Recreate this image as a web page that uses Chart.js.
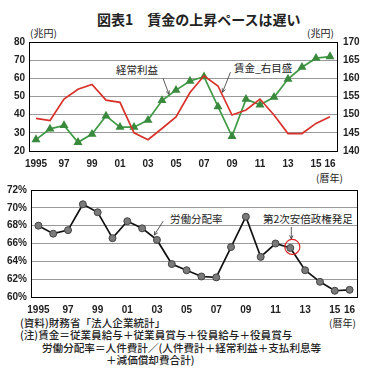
<!DOCTYPE html>
<html lang="ja">
<head>
<meta charset="utf-8">
<script src="https://cdn.jsdelivr.net/npm/chart.js@4/dist/chart.umd.min.js"></script>
<style>
  body { margin: 0; width: 373px; height: 379px; background: #fff; position: relative; overflow: hidden;
    font-family: 'Noto Sans CJK JP', sans-serif; color: #222; }
  .t { position: absolute; white-space: nowrap; font-size: 10px; line-height: 1; }
  .n { font-size: 10.6px; font-weight: 500; }
  canvas { position: absolute; left: 0; }
</style>
</head>
<body>
<div class="t" style="left:97px;top:12px;font-size:14px;font-weight:bold;">図表1　賃金の上昇ペースは遅い</div>
<div class="t" style="left:30px;top:28px;">(兆円)</div>
<div class="t" style="left:307px;top:28px;">(兆円)</div>
<div class="t" style="left:116px;top:65px;font-size:10.5px;">経常利益</div>
<div class="t" style="left:234px;top:63px;font-size:10.5px;">賃金_右目盛</div>
<div class="t" style="left:316px;top:173px;">(暦年)</div>
<div class="t" style="left:170px;top:214px;font-size:10.5px;">労働分配率</div>
<div class="t" style="left:263px;top:214px;font-size:10.5px;">第2次安倍政権発足</div>
<div class="t" style="left:329px;top:318px;">(暦年)</div>
<div class="t n" style="left:20px;top:318px;">(資料)財務省「法人企業統計」</div>
<div class="t n" style="left:20px;top:330px;">(注)賃金＝従業員給与＋従業員賞与＋役員給与＋役員賞与</div>
<div class="t n" style="left:42px;top:343px;">労働分配率＝人件費計／(人件費計＋経常利益＋支払利息等</div>
<div class="t n" style="left:106px;top:355px;">＋減価償却費合計)</div>

<canvas id="top-chart" width="373" height="171" style="top:0"></canvas>
<canvas id="share-chart" width="373" height="137" style="top:180px"></canvas>

<script>
const years = ['1995', '96', '97', '98', '99', '00', '01', '02', '03', '04', '05',
  '06', '07', '08', '09', '10', '11', '12', '13', '14', '15', '16'];
// 経常利益 (兆円, left axis)
const profit = [26.3, 32.2, 34.1, 24.8, 29.3, 39.3, 33.1, 33.1, 37.0, 47.8, 53.5,
  58.5, 60.9, 44.4, 28.1, 48.5, 45.4, 49.6, 59.6, 66.1, 71.1, 72.0];
// 賃金 (兆円, right axis)
const wages = [149.0, 148.4, 154.3, 157.0, 158.3, 154.0, 153.4, 145.0, 143.1, 146.2, 149.4,
  156.1, 160.7, 157.9, 149.9, 151.3, 154.3, 149.9, 144.8, 144.8, 147.6, 149.4];
// 労働分配率 (%)
const laborShare = [68.0, 67.1, 67.5, 70.4, 69.5, 66.6, 68.5, 67.7, 66.4, 63.7, 63.0,
  62.3, 62.2, 65.6, 69.0, 64.5, 66.0, 65.5, 63.0, 61.7, 60.7, 60.8];
const abeStartIndex = 17; // 2012

const tickFont = { family: "'Liberation Sans', Arial, sans-serif", size: 10, weight: 'bold' };
const tickColor = '#222';
const gridColor = '#9a9a9a';

function yearLabel(value, index) {
  return (index % 2 === 0 || index === years.length - 1) ? years[index] : '';
}

const frame = {
  id: 'frame',
  beforeDatasetsDraw(chart) {
    const { ctx, chartArea: a } = chart;
    ctx.save();
    ctx.strokeStyle = '#000';
    ctx.lineWidth = 1;
    ctx.strokeRect(Math.round(a.left) + 0.5, Math.round(a.top) + 0.5,
      Math.round(a.right - a.left), Math.round(a.bottom - a.top));
    ctx.restore();
  },
};

function arrow(ctx, x1, y1, x2, y2) {
  const ang = Math.atan2(y2 - y1, x2 - x1);
  ctx.beginPath();
  ctx.moveTo(x1, y1);
  ctx.lineTo(x2, y2);
  ctx.moveTo(x2 - 4 * Math.cos(ang - 0.45), y2 - 4 * Math.sin(ang - 0.45));
  ctx.lineTo(x2, y2);
  ctx.lineTo(x2 - 4 * Math.cos(ang + 0.45), y2 - 4 * Math.sin(ang + 0.45));
  ctx.stroke();
}

function along(p, q, t) {
  return { x: p.x + (q.x - p.x) * t, y: p.y + (q.y - p.y) * t };
}

const topArrows = {
  id: 'topArrows',
  afterDatasetsDraw(chart) {
    const { ctx } = chart;
    const wagePts = chart.getDatasetMeta(0).data;
    const profitPts = chart.getDatasetMeta(1).data;
    ctx.save();
    ctx.strokeStyle = '#333';
    ctx.lineWidth = 0.8;
    const a = along(profitPts[9], profitPts[10], 0.5);
    arrow(ctx, a.x - 6, a.y - 17, a.x, a.y - 1);
    const b = along(wagePts[13], wagePts[14], 0.25);
    arrow(ctx, b.x + 9, b.y - 21, b.x + 1, b.y - 1);
    ctx.restore();
  },
};

const shareMarks = {
  id: 'shareMarks',
  afterDatasetsDraw(chart) {
    const { ctx } = chart;
    const pts = chart.getDatasetMeta(0).data;
    ctx.save();
    ctx.strokeStyle = '#333';
    ctx.lineWidth = 0.8;
    const a = along(pts[7], pts[8], 0.75);
    arrow(ctx, a.x + 10, a.y - 16, a.x + 1, a.y - 2);
    const c = pts[abeStartIndex];
    arrow(ctx, c.x + 1, c.y - 21, c.x + 1, c.y - 9);
    ctx.strokeStyle = '#e02828';
    ctx.lineWidth = 1.2;
    ctx.beginPath();
    ctx.arc(c.x + 2, c.y - 1, 7.5, 0, Math.PI * 2);
    ctx.stroke();
    ctx.restore();
  },
};

new Chart(document.getElementById('top-chart'), {
  type: 'line',
  data: {
    labels: years,
    datasets: [
      {
        label: '賃金',
        data: wages,
        yAxisID: 'y2',
        borderColor: '#d8322b',
        borderWidth: 1.7,
        pointRadius: 0,
      },
      {
        label: '経常利益',
        data: profit,
        yAxisID: 'y',
        borderColor: '#3f9a45',
        borderWidth: 1.7,
        pointStyle: 'triangle',
        pointRadius: 3.5,
        pointBackgroundColor: '#3a8a3e',
        pointBorderColor: '#3a8a3e',
      },
    ],
  },
  options: {
    responsive: false,
    animation: false,
    layout: { padding: { top: 42, left: 0, right: 0, bottom: 0 } },
    plugins: { legend: { display: false }, tooltip: { enabled: false } },
    scales: {
      x: {
        offset: true,
        grid: { display: false, drawTicks: false },
        border: { display: false },
        ticks: { autoSkip: false, maxRotation: 0, padding: 7, font: tickFont, color: tickColor, callback: yearLabel },
        afterFit: (s) => { s.height = 20; },
      },
      y: {
        min: 20,
        max: 80,
        grid: { color: gridColor, drawTicks: false },
        border: { display: false },
        ticks: { stepSize: 10, padding: 4, font: tickFont, color: tickColor },
        afterFit: (s) => { s.width = 29; },
      },
      y2: {
        position: 'right',
        min: 140,
        max: 170,
        grid: { drawOnChartArea: false, drawTicks: false },
        border: { display: false },
        ticks: { stepSize: 5, padding: 6, font: tickFont, color: tickColor },
        afterFit: (s) => { s.width = 36; },
      },
    },
  },
  plugins: [frame, topArrows],
});

new Chart(document.getElementById('share-chart'), {
  type: 'line',
  data: {
    labels: years,
    datasets: [
      {
        label: '労働分配率',
        data: laborShare,
        borderColor: '#111',
        borderWidth: 1.7,
        pointRadius: 3.5,
        pointBackgroundColor: '#7a7a7a',
        pointBorderColor: '#444',
        pointBorderWidth: 1,
      },
    ],
  },
  options: {
    responsive: false,
    animation: false,
    layout: { padding: { top: 10, left: 0, right: 16, bottom: 0 } },
    plugins: { legend: { display: false }, tooltip: { enabled: false } },
    scales: {
      x: {
        offset: true,
        grid: { display: false, drawTicks: false },
        border: { display: false },
        ticks: { autoSkip: false, maxRotation: 0, padding: 7, font: tickFont, color: tickColor, callback: yearLabel },
        afterFit: (s) => { s.height = 20; },
      },
      y: {
        min: 60,
        max: 72,
        grid: { color: gridColor, drawTicks: false },
        border: { display: false },
        ticks: { stepSize: 2, padding: 4, font: tickFont, color: tickColor, callback: (v) => v + '%' },
        afterFit: (s) => { s.width = 31; },
      },
    },
  },
  plugins: [frame, shareMarks],
});
</script>
</body>
</html>
